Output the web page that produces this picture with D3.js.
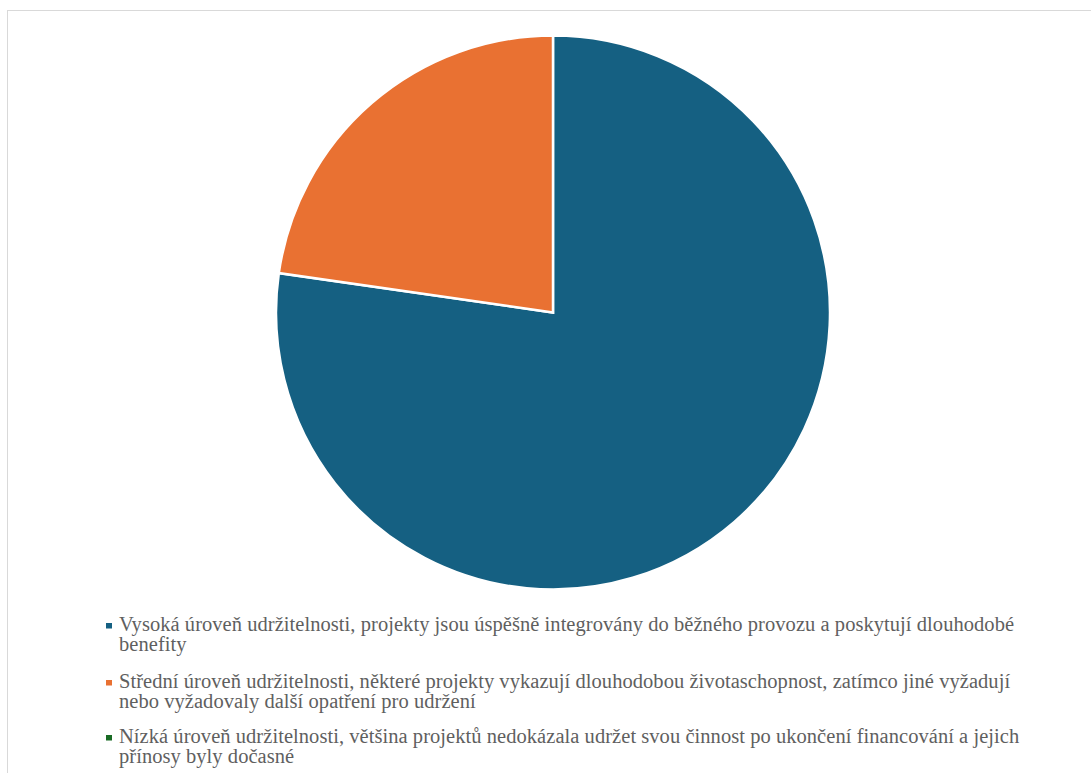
<!DOCTYPE html>
<html><head><meta charset="utf-8">
<script src="https://cdn.jsdelivr.net/npm/d3@7"></script>
<style>body{margin:0;background:#fff;}svg{display:block;}
.lg{font-family:"Liberation Serif","Times New Roman",serif;}</style>
</head><body>
<svg id="chart" width="1091" height="773"></svg>
<script>
const categories = [
  "Vysoká úroveň udržitelnosti, projekty jsou úspěšně integrovány do běžného provozu a poskytují dlouhodobé benefity",
  "Střední úroveň udržitelnosti, některé projekty vykazují dlouhodobou životaschopnost, zatímco jiné vyžadují nebo vyžadovaly další opatření pro udržení",
  "Nízká úroveň udržitelnosti, většina projektů nedokázala udržet svou činnost po ukončení financování a jejich přínosy byly dočasné"
];
const legendLines = [
  ["Vysoká úroveň udržitelnosti, projekty jsou úspěšně integrovány do běžného provozu a poskytují dlouhodobé", "benefity"],
  ["Střední úroveň udržitelnosti, některé projekty vykazují dlouhodobou životaschopnost, zatímco jiné vyžadují", "nebo vyžadovaly další opatření pro udržení"],
  ["Nízká úroveň udržitelnosti, většina projektů nedokázala udržet svou činnost po ukončení financování a jejich", "přínosy byly dočasné"]
];
const values = [17, 5, 0];
const colors = ["#156082", "#E97132", "#196B24"];

const svg = d3.select("#chart");
svg.append("rect").attr("x", 7.5).attr("y", 10.5).attr("width", 1100).attr("height", 800)
  .attr("fill", "none").attr("stroke", "#d9d9d9").attr("stroke-width", 1);

const cx = 553, cy = 312.5, r = 277;
const pie = d3.pie().sort(null).value(d => d)(values);
const arc = d3.arc().innerRadius(0).outerRadius(r);
const color = d3.scaleOrdinal().domain(d3.range(categories.length)).range(colors);
svg.append("g").attr("transform", `translate(${cx},${cy})`)
  .selectAll("path").data(pie.filter(d => d.value > 0)).join("path")
  .attr("d", arc).attr("fill", d => color(d.index))
  .attr("stroke", "#fff").attr("stroke-width", 2.5).attr("stroke-linejoin", "miter");

const baselines = [631, 688, 743];
const lg = svg.append("g");
categories.forEach((c, i) => {
  const g = lg.append("g");
  g.append("rect").attr("x", 106).attr("y", baselines[i] - 8).attr("width", 6).attr("height", 5.5).attr("fill", color(i));
  const t = g.append("text").attr("class", "lg")
    .attr("font-size", 20.5).attr("fill", "#5f5f5f").attr("letter-spacing", 0.05);
  legendLines[i].forEach((ln, j) => {
    t.append("tspan").attr("x", 119).attr("y", baselines[i] + j * 20).text(ln);
  });
});
</script>
</body></html>
